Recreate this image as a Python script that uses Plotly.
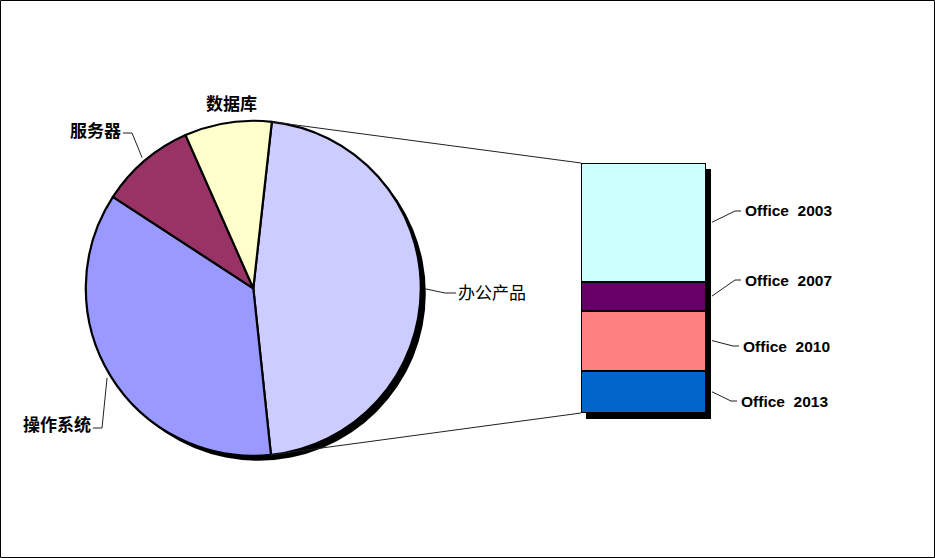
import math
import plotly.graph_objects as go

# ---------------- data ----------------
pie_labels = ["办公产品", "操作系统", "服务器", "数据库"]
pie_values = [46.6, 35.9, 9.2, 8.4]
pie_colors = ["#CCCCFF", "#9999FF", "#993366", "#FFFFCC"]

bar_labels = ["Office 2013", "Office 2010", "Office 2007", "Office 2003"]  # bottom -> top
bar_values = [7.9, 11.2, 5.4, 22.1]
bar_colors = ["#0066CC", "#FF8080", "#660066", "#CCFFFF"]

# ---------------- layout geometry (pixels) ----------------
W, H = 935, 558
CX, CY, R = 253.3, 288.3, 167.5          # pie centre / radius
ROT = 6.35                               # start angle of first slice (deg, clockwise from 12)
SH = 5                                   # shadow offset
BX0, BX1, BY0, BY1 = 581, 706, 163, 413  # bar box


def px(x):
    return x / W


def py(y):
    return 1 - y / H


def on_circle(angle_deg, r=R):
    a = math.radians(angle_deg)
    return CX + r * math.sin(a), CY - r * math.cos(a)


total = sum(pie_values)
bar_total = sum(bar_values)

fig = go.Figure()

# pie shadow
fig.add_trace(go.Pie(
    values=[1], labels=["shadow"], marker=dict(colors=["black"], line=dict(width=0)),
    textinfo="none", hoverinfo="skip", showlegend=False, sort=False,
    domain=dict(x=[px(CX - R + SH), px(CX + R + SH)], y=[py(CY + R + SH), py(CY - R + SH)]),
))
# main pie
fig.add_trace(go.Pie(
    values=pie_values, labels=pie_labels, marker=dict(colors=pie_colors, line=dict(color="black", width=2.2)),
    textinfo="none", showlegend=False, sort=False, direction="clockwise", rotation=ROT,
    domain=dict(x=[px(CX - R), px(CX + R)], y=[py(CY + R), py(CY - R)]),
))

# bar shadow (xaxis / yaxis)
fig.add_trace(go.Bar(x=[0], y=[bar_total], width=1, marker=dict(color="black", line=dict(width=0)),
                     hoverinfo="skip", showlegend=False, xaxis="x", yaxis="y"))
# main stacked bar (xaxis2 / yaxis2)
for lab, val, col in zip(bar_labels, bar_values, bar_colors):
    fig.add_trace(go.Bar(x=[0], y=[val], width=1, name=lab,
                         marker=dict(color=col, line=dict(color="black", width=2.2)),
                         showlegend=False, xaxis="x2", yaxis="y2"))

ax_common = dict(visible=False, fixedrange=True)
fig.update_layout(
    width=W, height=H, margin=dict(l=0, r=0, t=0, b=0),
    paper_bgcolor="white", plot_bgcolor="rgba(0,0,0,0)",
    barmode="stack", bargap=0,
    xaxis=dict(domain=[px(BX0 + SH), px(BX1 + SH)], range=[-0.5, 0.5], **ax_common),
    yaxis=dict(domain=[py(BY1 + SH + 1), py(BY0 + SH + 1)], range=[0, bar_total], **ax_common),
    xaxis2=dict(domain=[px(BX0), px(BX1)], range=[-0.5, 0.5], anchor="y2", **ax_common),
    yaxis2=dict(domain=[py(BY1), py(BY0)], range=[0, bar_total], anchor="x2", **ax_common),
)

shapes = []
line_style = dict(color="#202020", width=1)

# connector lines between pie slice and bar
a_start = ROT
a_end = ROT + 360 * pie_values[0] / total
x0, y0 = on_circle(a_start)
x1, y1 = on_circle(a_end)
shapes.append(dict(type="line", xref="paper", yref="paper", x0=px(x0), y0=py(y0), x1=px(BX0), y1=py(BY0),
                   line=line_style))
shapes.append(dict(type="line", xref="paper", yref="paper", x0=px(x1), y0=py(y1), x1=px(BX0), y1=py(BY1),
                   line=line_style))

# pie labels + leader lines
label_pos = {"办公产品": (492, 291), "操作系统": (57, 423), "服务器": (95, 129), "数据库": (231, 102)}
leader = {  # elbow point, end point (pixel)
    "办公产品": ((445, 293), (456, 293)),
    "操作系统": ((102, 428), (93, 428)),
    "服务器": ((132, 133), (123, 133)),
}
annotations = []
acc = ROT
for lab, val in zip(pie_labels, pie_values):
    span = 360 * val / total
    mid = acc + span / 2
    acc += span
    lx, ly = label_pos[lab]
    bold = lab != "办公产品"
    annotations.append(dict(
        x=px(lx), y=py(ly), xref="paper", yref="paper", showarrow=False, xanchor="center", yanchor="middle",
        text=f"<b>{lab}</b>" if bold else lab,
        font=dict(family="Noto Sans CJK SC", size=17, color="black"),
    ))
    if lab in leader:
        ex, ey = on_circle(mid, R + 4)
        (bx, by), (tx, ty) = leader[lab]
        path = f"M {px(ex)} {py(ey)} L {px(bx)} {py(by)} L {px(tx)} {py(ty)}"
        shapes.append(dict(type="path", xref="paper", yref="paper", path=path, line=line_style))

# bar labels + leader lines
bar_label_pos = {"Office 2003": (745, 211), "Office 2007": (745, 280),
                 "Office 2010": (743, 346), "Office 2013": (741, 401)}
cum = 0
for lab, val in zip(bar_labels, bar_values):
    mid_val = cum + val / 2
    cum += val
    my = BY1 - (BY1 - BY0) * mid_val / bar_total
    lx, ly = bar_label_pos[lab]
    annotations.append(dict(
        x=px(lx - 2), y=py(ly), xref="paper", yref="paper", showarrow=False, xanchor="left", yanchor="middle",
        text=f"<b>{lab.replace(' ', '&nbsp; ')}</b>", font=dict(family="Liberation Sans, Arial", size=15.5, color="black"),
    ))
    path = f"M {px(BX1 + SH + 1)} {py(my)} L {px(lx - 10)} {py(ly)} L {px(lx - 4)} {py(ly)}"
    shapes.append(dict(type="path", xref="paper", yref="paper", path=path, line=line_style))

# outer border
shapes.append(dict(type="rect", xref="paper", yref="paper", x0=px(0.5), y0=py(H - 0.5), x1=px(W - 0.5), y1=py(0.5),
                   line=dict(color="black", width=1)))

fig.update_layout(shapes=shapes, annotations=annotations)
fig.write_html("out.html", config={"displayModeBar": False},
               post_script="document.body.style.margin='0';document.body.style.padding='0';")
